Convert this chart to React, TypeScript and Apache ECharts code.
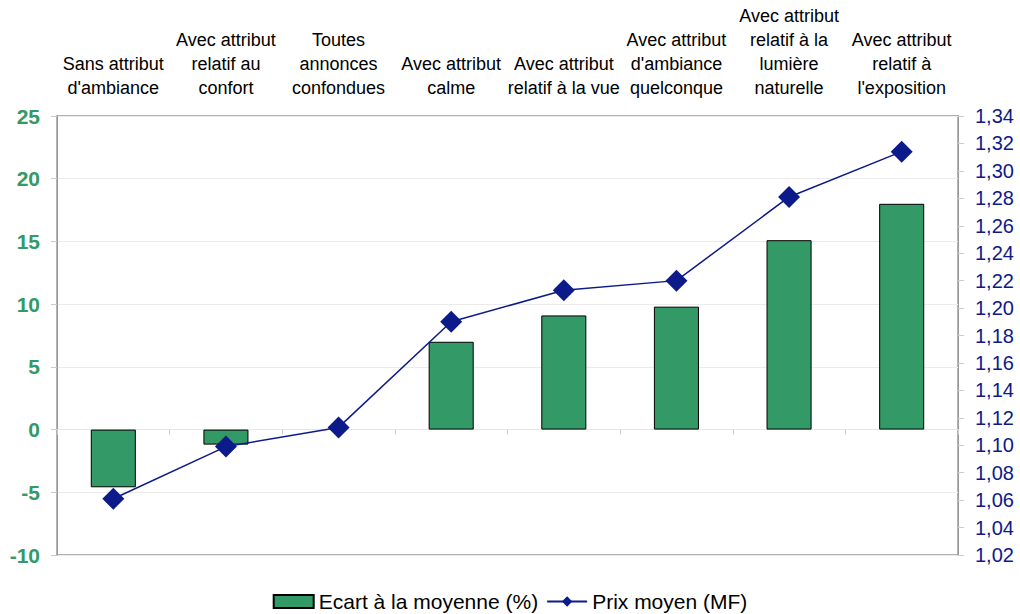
import React, { useEffect, useRef } from "react";
import * as echarts from "echarts";

const categories = [
  "Sans attribut\nd'ambiance",
  "Avec attribut\nrelatif au\nconfort",
  "Toutes\nannonces\nconfondues",
  "Avec attribut\ncalme",
  "Avec attribut\nrelatif à la vue",
  "Avec attribut\nd'ambiance\nquelconque",
  "Avec attribut\nrelatif à la\nlumière\nnaturelle",
  "Avec attribut\nrelatif à\nl'exposition",
];
const ecart = [-4.6, -1.2, 0, 7.0, 9.1, 9.8, 15.1, 18.0];
const prix = [1.061, 1.099, 1.113, 1.19, 1.213, 1.22, 1.281, 1.314];
const seriesNames = ["Ecart à la moyenne (%)", "Prix moyen (MF)"];

const FONT = "'Liberation Sans', Arial, sans-serif";

export default function App() {
  const ref = useRef<HTMLDivElement>(null);
  useEffect(() => {
    const chart = echarts.init(ref.current!, null, { renderer: "svg" });
    chart.setOption({
      animation: false,
      textStyle: { fontFamily: FONT },
      grid: { left: 57, right: 62, top: 116, bottom: 59, show: true, borderColor: "#999", borderWidth: 1.5 },
      legend: {
        bottom: -3,
        left: "center",
        itemGap: 8,
        itemWidth: 40,
        itemHeight: 13,
        textStyle: { fontSize: 21, color: "#000", fontFamily: FONT },
        data: [
          { name: seriesNames[0], icon: "rect" },
          { name: seriesNames[1] },
        ],
      },
      xAxis: [
        {
          type: "category",
          data: categories,
          position: "bottom",
          axisLine: { onZero: true, lineStyle: { color: "#e6e6e6" } },
          axisTick: { show: true, length: 5, inside: false, lineStyle: { color: "#ccc" } },
          axisLabel: { show: false },
        },
        {
          type: "category",
          data: categories,
          position: "top",
          axisLine: { show: false },
          axisTick: { show: false },
          axisLabel: {
            interval: 0,
            fontSize: 18,
            lineHeight: 24,
            color: "#000",
            margin: 16,
            fontFamily: FONT,
          },
        },
      ],
      yAxis: [
        {
          type: "value",
          min: -10,
          max: 25,
          interval: 5,
          axisLine: { show: true, lineStyle: { color: "#999" } },
          axisTick: { show: true, length: 6, lineStyle: { color: "#ccc" } },
          splitLine: { show: true, lineStyle: { color: "#ebebeb" } },
          axisLabel: { fontSize: 21, fontWeight: "bold", color: "#339966", margin: 17, fontFamily: FONT },
        },
        {
          type: "value",
          min: 1.02,
          max: 1.34,
          interval: 0.02,
          position: "right",
          axisLine: { show: true, lineStyle: { color: "#999" } },
          axisTick: { show: true, length: 6, lineStyle: { color: "#ccc" } },
          splitLine: { show: false },
          axisLabel: {
            fontSize: 20,
            color: "#0d1a8a",
            margin: 17,
            fontFamily: FONT,
            formatter: (v: number) => v.toFixed(2).replace(".", ","),
          },
        },
      ],
      series: [
        {
          name: seriesNames[0],
          type: "bar",
          data: ecart.map((v) => ({
            value: v,
            itemStyle: v === 0 ? { borderWidth: 0 } : undefined,
          })),
          xAxisIndex: 0,
          yAxisIndex: 0,
          barWidth: "40%",
          itemStyle: { color: "#339966", borderColor: "#000", borderWidth: 1 },
        },
        {
          name: seriesNames[1],
          type: "line",
          data: prix,
          xAxisIndex: 0,
          yAxisIndex: 1,
          symbol: "diamond",
          symbolSize: 22,
          lineStyle: { color: "#0d1a8a", width: 1.5 },
          itemStyle: { color: "#0d1a8a" },
        },
      ],
    });
    return () => chart.dispose();
  }, []);
  return <div ref={ref} style={{ position: "absolute", left: 0, top: 0, width: 1020, height: 614 }} />;
}
